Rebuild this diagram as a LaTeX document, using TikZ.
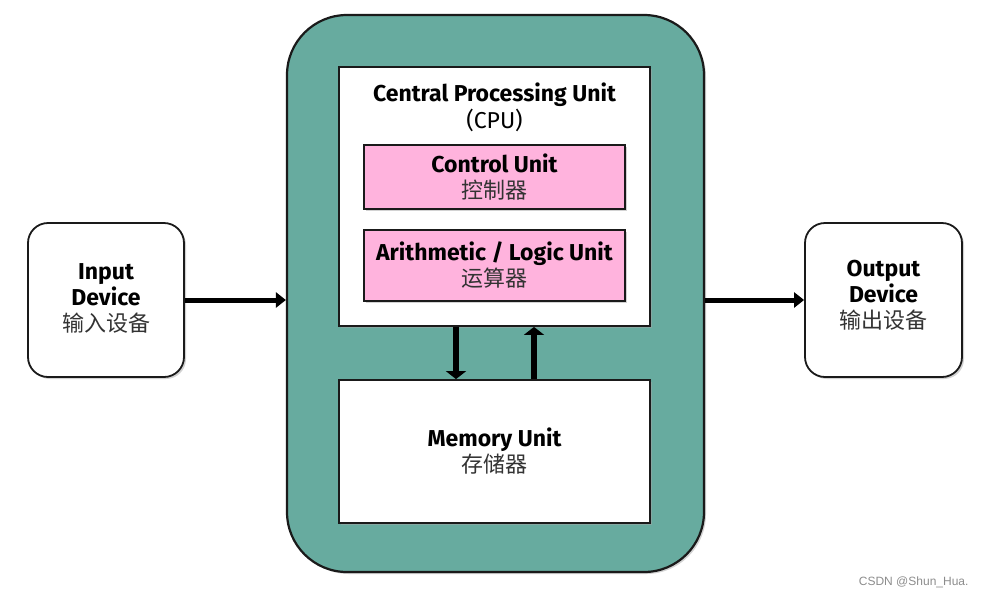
\documentclass[tikz,border=0pt]{standalone}
\usepackage{fontspec}
\setmainfont{Fira Sans}
\newfontfamily\cjk{Noto Sans CJK SC}
\newfontfamily\wmfont{Liberation Sans}
\usetikzlibrary{arrows.meta,shadows}
\definecolor{tealbg}{HTML}{67AB9F}
\definecolor{pinkbg}{HTML}{FFB3DD}
\definecolor{edge}{HTML}{1A1A1A}
\definecolor{cjkgray}{HTML}{333333}
\newcommand{\entxt}[1]{{\bfseries #1}}
\newcommand{\zhtxt}[1]{{\cjk\fontsize{22}{26}\selectfont\color{cjkgray}#1}}
\begin{document}
\begin{tikzpicture}[x=1pt,y=-1pt,
  box/.style={draw=edge, line width=1.8pt, fill=white, inner sep=0pt,
    align=center, font=\fontsize{23}{26}\selectfont,
    drop shadow={shadow xshift=2pt, shadow yshift=-2pt, fill=black!35}},
  pinkbox/.style={box, fill=pinkbg, minimum width=261pt},
  harrow/.style={draw=black, line width=5pt, -{Triangle[width=15pt,length=10pt]}},
  varrow/.style={draw=black, line width=6pt, -{Triangle[width=20pt,length=8pt]}}]
\useasboundingbox (0,0) rectangle (984,598);
% system
\node[box, fill=tealbg, line width=2.2pt, rounded corners=60pt,
  minimum width=417pt, minimum height=557pt] (sys) at (495.5,293.5) {};
% cpu
\node[box, minimum width=311pt, minimum height=259pt] (cpu) at (494.5,196.5) {};
\node[align=center, font=\fontsize{23}{27}\selectfont] (cputitle) at (494.5,107)
  {\entxt{Central Processing Unit}\\(CPU)};
\node[pinkbox, minimum height=64pt] (ctrl) at (494.5,177)
  {\entxt{Control Unit}\\\zhtxt{控制器}};
\node[pinkbox, minimum height=71pt] (alu) at (494.5,265.5)
  {\entxt{Arithmetic / Logic Unit}\\\zhtxt{运算器}};
% memory
\node[box, minimum width=311pt, minimum height=143pt] (mem) at (494.5,451.5)
  {\entxt{Memory Unit}\\\zhtxt{存储器}};
% devices
\node[box, rounded corners=20pt, minimum width=156pt, minimum height=154pt] (input) at (106,300)
  {\entxt{Input}\\\entxt{Device}\\\zhtxt{输入设备}\rule[-4pt]{0pt}{0pt}};
\node[box, rounded corners=20pt, minimum width=157pt, minimum height=154pt] (output) at (883.5,300)
  {\entxt{Output}\\\entxt{Device}\\\zhtxt{输出设备}\rule[-12pt]{0pt}{0pt}};
% connectors
\draw[harrow] (input.east) -- (input.east -| sys.west);
\draw[harrow] (output.west -| sys.east) -- (output.west);
\draw[varrow] ([xshift=-38.5pt]cpu.south) -- ([xshift=-38.5pt]mem.north);
\draw[varrow] ([xshift=39.5pt]mem.north) -- ([xshift=39.5pt]cpu.south);
% watermark
\node[font=\wmfont\fontsize{12}{14}\selectfont, text=black!45, anchor=east] (wm) at (972,582) {CSDN @Shun\_Hua.};
\end{tikzpicture}
\end{document}
